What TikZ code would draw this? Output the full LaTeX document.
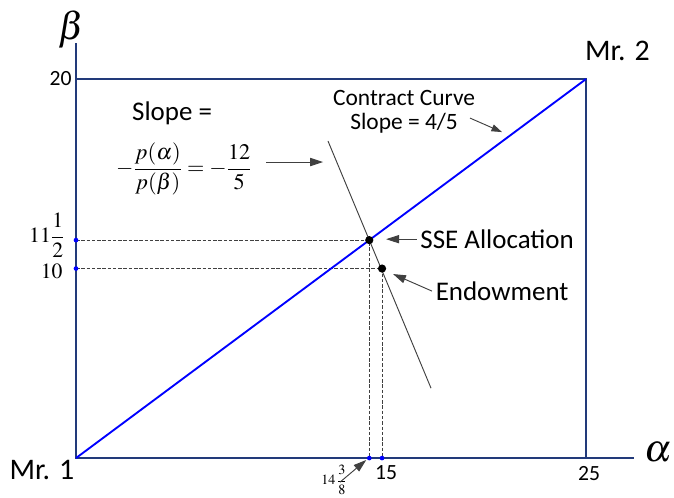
\documentclass[tikz,border=0pt]{standalone}
\usepackage{amsmath}
\usepackage{mathptmx}
\usepackage[no-math]{fontspec}
\setmainfont{Carlito}
\usetikzlibrary{arrows.meta, positioning, calc}
\definecolor{boxnavy}{RGB}{34, 58, 122}
\definecolor{curveblue}{RGB}{0, 0, 255}
\definecolor{arrgray}{RGB}{64, 64, 64}

\begin{document}
\begin{tikzpicture}[
  x=0.612cm, y=0.5685cm,
  frame/.style={draw=boxnavy, line width=1.4pt},
  contract/.style={draw=curveblue, line width=1.6pt},
  guide/.style={draw=arrgray, line width=0.8pt, dash pattern=on 3pt off 1.5pt},
  budget/.style={draw=arrgray, line width=0.8pt},
  arr/.style={-{Triangle[length=11pt, width=7pt]}, color=arrgray, line width=0.8pt},
  blackdot/.style={circle, fill=black, inner sep=0pt, minimum size=7pt},
  bluedot/.style={circle, fill=curveblue, inner sep=0pt, minimum size=4pt},
  axlbl/.style={font=\fontsize{33}{36}\selectfont, inner sep=0pt},
  mrlbl/.style={font=\fontsize{25.5}{28}\selectfont, inner sep=1pt},
  lbl/.style={font=\fontsize{23}{27}\selectfont, inner sep=3pt},
  midlbl/.style={font=\fontsize{20}{20.5}\selectfont, inner sep=1pt, align=center},
  numlbl/.style={font=\fontsize{18.5}{22}\selectfont, inner sep=0pt}
]
\useasboundingbox (-3.725,-2.058) rectangle (29.31,24.17);

% box and axes
\coordinate (O) at (0,0);
\coordinate (TL) at (0,20);
\coordinate (TR) at (25,20);
\coordinate (BR) at (25,0);
\coordinate (ytop) at (0,21.9);
\coordinate (xend) at (27.35,0);
\draw[frame] (ytop) -- (O) -- (xend);
\draw[frame] (TL) -- (TR) -- (BR);

% allocations
\coordinate (sse) at (14.375,11.5);
\coordinate (endow) at (15,10);
\coordinate (y115) at (0,11.5);
\coordinate (y10) at (0,10);
\coordinate (x1438) at (14.375,0);
\coordinate (x15) at (15,0);
\draw[guide] (y115) -- (sse) -- (x1438);
\draw[guide] (y10) -- (endow) -- (x15);

\coordinate (p1) at (12.35,16.73);
\coordinate (p2) at (17.40,3.69);
\draw[budget] (p1) -- (p2);
\draw[contract] (O) -- (TR);

\node[blackdot] (ssedot) at (sse) {};
\node[blackdot] (endowdot) at (endow) {};
\foreach \p in {y115, y10, x1438, x15}
  \node[bluedot] at (\p) {};

% labels
\node[axlbl] (beta) at (-0.245,22.6) {$\beta$};
\node[axlbl] (alpha) at (28.55,0.32) {$\alpha$};
\node[mrlbl] (mr1) at (-1.67,-0.63) {Mr. 1};
\node[mrlbl] (mr2) at (26.54,21.5) {Mr. 2};
\node[numlbl, anchor=east] (l20) at (-0.2,20) {20};
\node[numlbl, anchor=east] (l115) at (-0.55,11.75) {$11\dfrac{1}{2}$};
\node[numlbl, anchor=east] (l10) at (-0.65,9.85) {$10$};
\node[numlbl] (l15) at (15.2,-0.79) {15};
\node[numlbl] (l25) at (25.15,-0.79) {25};
\node[font=\fontsize{12}{14}\selectfont, inner sep=0pt] (l1438) at (12.65,-1.15)
  {$14\,\dfrac{3}{8}$};

\node[lbl, anchor=west] (sselbl) at (16.7,11.55) {SSE Allocation};
\node[lbl, anchor=west] (endowlbl) at (17.45,8.81) {Endowment};
\node[lbl, inner sep=0pt] (slopelbl) at (4.71,18.2) {Slope =};
\node[font=\fontsize{19}{22}\selectfont, inner sep=0pt] (eq) at (5.29,15.25)
  {$-\dfrac{p(\alpha)}{p(\beta)}=-\dfrac{12}{5}$};
\node[midlbl] (cclbl) at (16.08,18.26) {Contract Curve\\Slope = 4/5};

\coordinate (ssetip) at (15.2,11.55);
\coordinate (endowtip) at (15.54,9.71);
\coordinate (slopetip) at (12.11,15.62);
\coordinate (cctail) at (19.31,17.94);
\coordinate (cctip) at (20.88,17.2);
\coordinate (t1438) at (12.94,-1.27);
\draw[arr] (sselbl.west) -- (ssetip);
\draw[arr] (endowlbl.west) -- (endowtip);
\draw[arr, shorten <=12pt] (eq.east |- slopetip) -- (slopetip);
\draw[arr, -{Triangle[length=9pt, width=6pt]}] (cctail) -- (cctip);
\draw[arr] (t1438) -- ($(x1438)+(-0.15,-0.1)$);
\end{tikzpicture}
\end{document}
